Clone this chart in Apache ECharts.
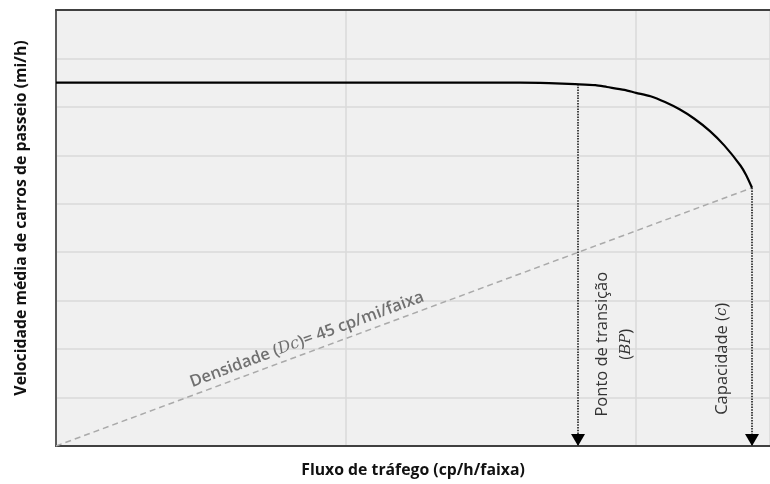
<!DOCTYPE html>
<html>
<head>
<meta charset="utf-8">
<script src="https://cdn.jsdelivr.net/npm/echarts@6/dist/echarts.min.js"></script>
<style>
html,body{margin:0;padding:0;background:#fff;}
#c{width:770px;height:484px;}
</style>
</head>
<body>
<div id="c"></div>
<script>
// Speed-flow curve
const flow  = [0, 1600, 1700, 1790, 1860, 1900, 1960, 2000, 2050, 2100, 2150, 2200, 2255, 2305, 2360, 2380, 2400];
const speed = [75, 75, 74.9, 74.7, 74.5, 74.1, 73.5, 72.9, 72.2, 71.0, 69.5, 67.6, 65.0, 62.0, 57.9, 55.9, 53.3];
const breakpoint = [1800, 74.7];
const capacity = [2400, 53.3];
const densityLine = [[0, 0], [2400, 53.3]];
const xRange = [0, 2462];
const yRange = [0, 90];
const xTitle = 'Fluxo de tráfego (cp/h/faixa)';
const yTitle = 'Velocidade média de carros de passeio (mi/h)';

const FONT = 'Open Sans';
const chart = echarts.init(document.getElementById('c'), null, {renderer: 'canvas'});

const curve = flow.map((f, i) => [f, speed[i]]);
const arrowEnd = (x) => ({
  value: [x, 0], symbol: 'triangle', symbolRotate: 180,
  symbolSize: [14, 12], symbolOffset: [0, -6],
  itemStyle: {color: '#000'}
});

chart.setOption({
  animation: false,
  grid: {left: 56, top: 10, right: 0, bottom: 38, show: true, backgroundColor: '#f0f0f0', borderWidth: 0},
  xAxis: [{
    type: 'value', min: xRange[0], max: xRange[1], interval: 1000,
    axisLabel: {show: false}, axisTick: {show: false},
    axisLine: {show: true, lineStyle: {color: '#404040', width: 2}},
    splitLine: {show: true, lineStyle: {color: '#dadada', width: 1.5}},
    name: xTitle, nameLocation: 'middle', nameGap: 16,
    nameTextStyle: {fontFamily: FONT, fontWeight: 'bold', fontSize: 15.8, color: '#111'}
  }, {
    type: 'value', position: 'top', min: xRange[0], max: xRange[1],
    axisLabel: {show: false}, axisTick: {show: false}, splitLine: {show: false},
    axisLine: {show: true, lineStyle: {color: '#404040', width: 2}}
  }],
  yAxis: {
    type: 'value', min: yRange[0], max: yRange[1], interval: 10,
    axisLabel: {show: false}, axisTick: {show: false},
    axisLine: {show: true, lineStyle: {color: '#5a5a5a', width: 2}},
    splitLine: {show: true, lineStyle: {color: '#dadada', width: 1.5}},
    name: yTitle, nameLocation: 'middle', nameGap: 27,
    nameTextStyle: {fontFamily: FONT, fontWeight: 'bold', fontSize: 15.8, color: '#111', padding: [0, 0, 0, 20]}
  },
  series: [
    {
      type: 'line', data: densityLine, showSymbol: false, silent: true,
      lineStyle: {color: '#aaaaaa', width: 1.5, type: [6, 4]}, z: 2
    },
    {
      type: 'line', data: [breakpoint, arrowEnd(breakpoint[0])], silent: true,
      symbol: 'none', showSymbol: true,
      lineStyle: {color: '#444', width: 2, type: [1.5, 1.2]}, z: 3
    },
    {
      type: 'line', data: [capacity, arrowEnd(capacity[0])], silent: true,
      symbol: 'none', showSymbol: true,
      lineStyle: {color: '#444', width: 2, type: [1.5, 1.2]}, z: 3
    },
    {
      type: 'line', data: curve, showSymbol: false, smooth: 0.25, silent: true,
      lineStyle: {color: '#000', width: 2.2}, z: 4
    }
  ]
});

// Annotations anchored to data positions
const p0 = chart.convertToPixel({gridIndex: 0}, densityLine[0]);
const p1 = chart.convertToPixel({gridIndex: 0}, densityLine[1]);
const ang = Math.atan2(p0[1] - p1[1], p1[0] - p0[0]);
const mid = chart.convertToPixel({gridIndex: 0}, [880, 880 * densityLine[1][1] / densityLine[1][0]]);
const nx = -Math.sin(ang) * 4, ny = -Math.cos(ang) * 4;
const bp = chart.convertToPixel({gridIndex: 0}, [breakpoint[0], 21]);
const cp = chart.convertToPixel({gridIndex: 0}, [capacity[0], 18]);

chart.setOption({
  graphic: [
    {
      type: 'text', x: mid[0] + nx, y: mid[1] + ny, rotation: ang, silent: true,
      style: {
        text: '{a|Densidade (}{i|Dc}{a|)= 45 cp/mi/faixa}',
        align: 'center', verticalAlign: 'bottom',
        rich: {
          a: {fontFamily: FONT, fontWeight: 600, fontSize: 16.5, fill: '#707070'},
          i: {fontFamily: 'DejaVu Serif', fontStyle: 'italic', fontSize: 16, fill: '#707070'}
        }
      }
    },
    {
      type: 'text', x: bp[0] + 36, y: bp[1], rotation: Math.PI / 2, silent: true,
      style: {
        text: '{a|Ponto de transição}\n{a|(}{i|BP}{a|)}',
        align: 'center', verticalAlign: 'middle',
        rich: {
          a: {fontFamily: FONT, fontSize: 16.5, fill: '#333', lineHeight: 24, align: 'center'},
          i: {fontFamily: 'DejaVu Serif', fontStyle: 'italic', fontSize: 15, fill: '#333', lineHeight: 24}
        }
      }
    },
    {
      type: 'text', x: cp[0] - 30, y: cp[1], rotation: Math.PI / 2, silent: true,
      style: {
        text: '{a|Capacidade (}{i|c}{a|)}',
        align: 'center', verticalAlign: 'middle',
        rich: {
          a: {fontFamily: FONT, fontSize: 16.5, fill: '#333'},
          i: {fontFamily: 'DejaVu Serif', fontStyle: 'italic', fontSize: 15, fill: '#333'}
        }
      }
    }
  ]
});
</script>
</body>
</html>
